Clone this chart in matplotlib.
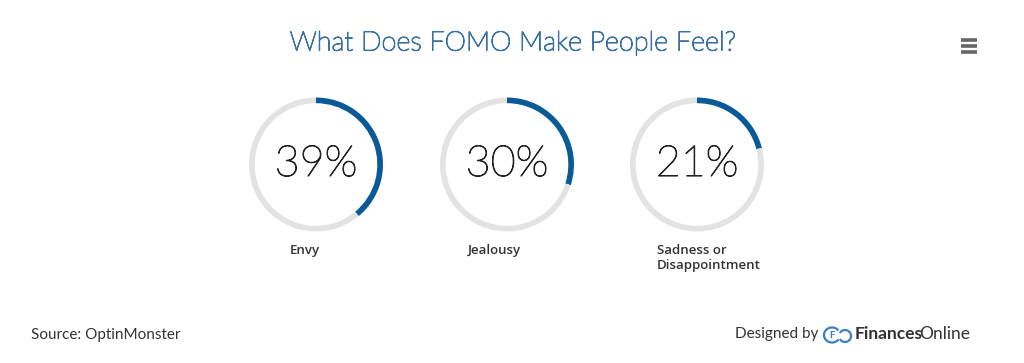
import matplotlib.pyplot as plt
import matplotlib.patheffects as pe
from matplotlib.patches import Arc

categories = ["Envy", "Jealousy", "Sadness or\nDisappointment"]
percents = [39, 30, 21]

title = "What Does FOMO Make People Feel?"
source = "Source: OptinMonster"

blue = "#0b5a98"
grey = "#e3e3e3"

W, H = 1024, 363
fig = plt.figure(figsize=(W / 100, H / 100), dpi=100)
fig.patch.set_facecolor("white")

# background axes in pixel units for the texts
bg = fig.add_axes([0, 0, 1, 1])
bg.set_xlim(0, W)
bg.set_ylim(H, 0)
bg.axis("off")

centers_x = [316, 507, 697]
center_y = 164.5
r = 67
label_x = [290, 468, 657]

# hairline font made a bit heavier -> looks like Lato Light
def thicken(w, c):
    return [pe.withStroke(linewidth=w, foreground=c)]

for i, (cat, p) in enumerate(zip(categories, percents)):
    cx = centers_x[i]
    ax = fig.add_axes([(cx - r) / W, (H - center_y - r) / H, 2 * r / W, 2 * r / H])
    ax.pie([p, 100 - p], colors=[blue, grey], startangle=90, counterclock=False,
           radius=1, wedgeprops=dict(width=0.085, linewidth=0))
    ax.set_xlim(-1, 1)
    ax.set_ylim(-1, 1)
    ax.axis("off")
    ax.text(0, 0, f"{p}%", ha="center", va="center", fontsize=31,
            family="Lato", fontweight="light", color="#222222",
            path_effects=thicken(0.75, "#222222"))
    bg.text(label_x[i], 244, cat, ha="left", va="top", fontsize=9.5,
            family="Open Sans", fontweight="semibold", color="#333333",
            linespacing=1.25)

bg.text(513, 43, title, ha="center", va="center", fontsize=19.5,
        family="Lato", fontweight="light", color="#3a71a3",
        path_effects=thicken(0.8, "#3a71a3"))

# menu icon
for yy in [40, 46, 52]:
    bg.plot([961, 977], [yy, yy], color="#666666", lw=2.6, solid_capstyle="butt")

bg.text(31, 335, source, ha="left", va="center", fontsize=11,
        family="Lato", color="#333333")
bg.text(735, 334, "Designed by", ha="left", va="center", fontsize=11,
        family="Lato", color="#333333")

# logo
logo = "#3a7fc1"
bg.add_patch(Arc((832, 335), 16, 15, theta1=35, theta2=325, color=logo, lw=1.6))
bg.add_patch(Arc((845, 336), 12, 12, theta1=-150, theta2=150, color=logo, lw=1.6))
bg.text(832, 335.5, "F", ha="center", va="center", fontsize=7, family="Lato",
        fontweight="bold", color=logo)

t = bg.text(855, 334, "Finances", ha="left", va="center", fontsize=12.5,
            family="Lato", fontweight="bold", color="#333333")
bg.annotate("Online", xy=(1, 0), xycoords=t, xytext=(-2.5, 0),
            textcoords="offset points", ha="left", va="bottom",
            fontsize=12.5, family="Lato", color="#333333")
fig.savefig("out.png", dpi=100)
